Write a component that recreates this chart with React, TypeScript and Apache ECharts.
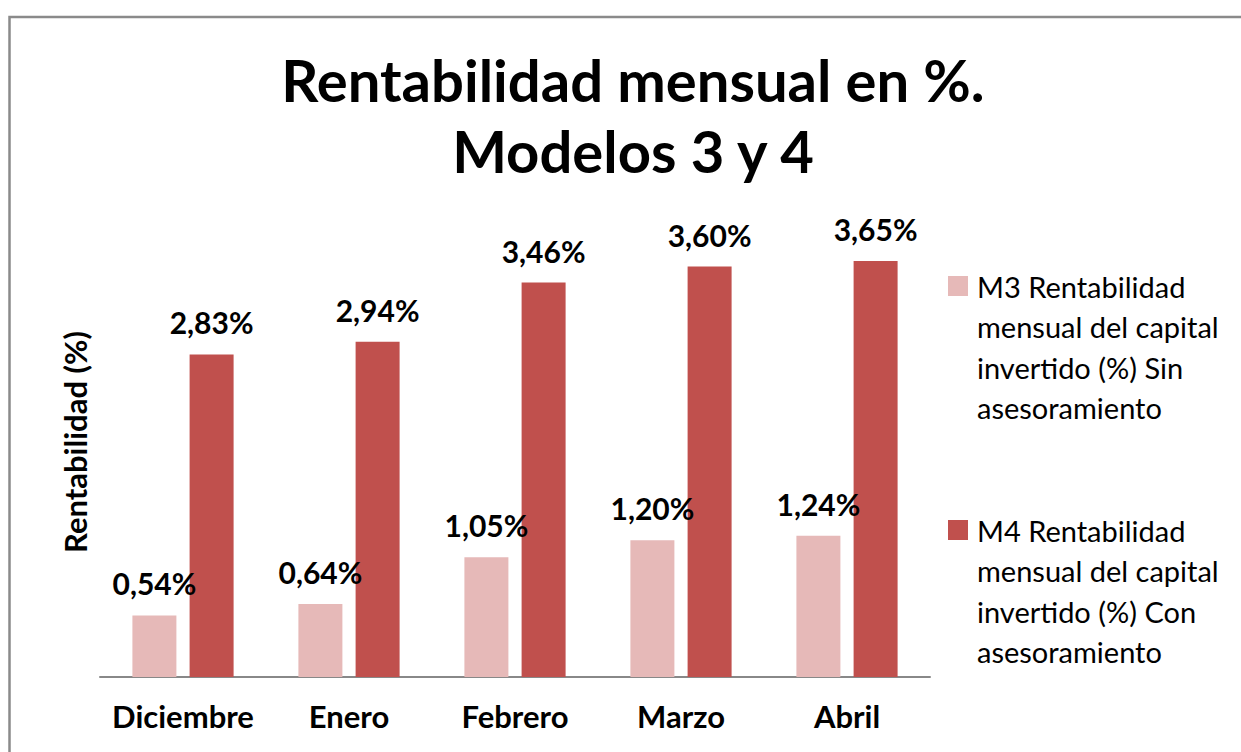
import React, { useEffect, useRef } from "react";
import * as echarts from "echarts";

const categories = ["Diciembre", "Enero", "Febrero", "Marzo", "Abril"];
const m3Values = [0.54, 0.64, 1.05, 1.2, 1.24];
const m4Values = [2.83, 2.94, 3.46, 3.6, 3.65];
const seriesNames = [
  "M3 Rentabilidad\nmensual del capital\ninvertido (%) Sin\nasesoramiento",
  "M4 Rentabilidad\nmensual del capital\ninvertido (%) Con\nasesoramiento",
];
const titleLines = ["Rentabilidad mensual en %.", "Modelos 3 y 4"];
const yAxisName = "Rentabilidad (%)";

const FONT = "Lato, 'Open Sans', sans-serif";
const fmt = (v: number) => v.toFixed(2).replace(".", ",") + "%";

export default function App() {
  const ref = useRef<HTMLDivElement>(null);
  useEffect(() => {
    if (!ref.current) return;
    const chart = echarts.init(ref.current, null, { renderer: "svg" });
    const lineH = 40.5;
    const legendText = {
      fontFamily: FONT,
      fontSize: 29,
      color: "#000",
      lineHeight: lineH,
      padding: [0, 0, 0, 4],
    };
    const half = (lineH * 7) / 2;
    const legendBase = {
      orient: "vertical",
      left: 948,
      padding: 0,
      itemWidth: 20,
      itemHeight: 20,
      icon: "rect",
      textStyle: legendText,
      selectedMode: false,
      formatter: (name: string) => "\n\n\n" + name,
    };
    const titleStyle = {
      fontFamily: FONT,
      fontWeight: "bold",
      fontSize: 58,
      fill: "#000",
      textAlign: "center",
      textVerticalAlign: "middle",
    };
    chart.setOption({
      animation: false,
      backgroundColor: "#fff",
      graphic: [
        {
          type: "rect",
          silent: true,
          z: -1,
          shape: { x: 9.5, y: 17, width: 1500, height: 1000 },
          style: { fill: "none", stroke: "#8a8a8a", lineWidth: 2.5 },
        },
        {
          type: "text",
          x: 633,
          y: 79,
          style: { ...titleStyle, text: titleLines[0] },
        },
        {
          type: "text",
          x: 633,
          y: 150,
          style: { ...titleStyle, text: titleLines[1] },
        },
      ],
      legend: [
        { ...legendBase, data: [seriesNames[0]], top: 286 - half },
        { ...legendBase, data: [seriesNames[1]], top: 530 - half },
      ],
      grid: { left: 100, right: 311, top: 221, bottom: 75, containLabel: false },
      xAxis: {
        type: "category",
        data: categories,
        axisLine: { show: true, lineStyle: { color: "#888", width: 2 } },
        axisTick: { show: false },
        axisLabel: {
          interval: 0,
          fontFamily: FONT,
          fontWeight: "bold",
          fontSize: 31,
          color: "#000",
          margin: 23,
        },
      },
      yAxis: {
        type: "value",
        min: 0,
        max: 4,
        axisLine: { show: false },
        axisTick: { show: false },
        axisLabel: { show: false },
        splitLine: { show: false },
        name: yAxisName,
        nameLocation: "middle",
        nameGap: 10,
        nameTextStyle: {
          fontFamily: FONT,
          fontWeight: "bold",
          fontSize: 31,
          color: "#000",
          padding: [0, 0, 0, 14],
        },
      },
      series: [
        {
          name: seriesNames[0],
          type: "bar",
          data: m3Values,
          barWidth: 44,
          barGap: "30%",
          itemStyle: { color: "#E6B9B8" },
          label: {
            show: true,
            position: "top",
            distance: 17,
            formatter: (p: any) => fmt(p.value),
            fontFamily: FONT,
            fontWeight: "bold",
            fontSize: 30,
            color: "#000",
          },
        },
        {
          name: seriesNames[1],
          type: "bar",
          data: m4Values,
          barWidth: 44,
          barGap: "30%",
          itemStyle: { color: "#C0504D" },
          label: {
            show: true,
            position: "top",
            distance: 17,
            formatter: (p: any) => fmt(p.value),
            fontFamily: FONT,
            fontWeight: "bold",
            fontSize: 30,
            color: "#000",
          },
        },
      ],
    });
    return () => chart.dispose();
  }, []);
  return (
    <div
      ref={ref}
      style={{ position: "absolute", left: 0, top: 0, width: 1241, height: 752 }}
    />
  );
}
